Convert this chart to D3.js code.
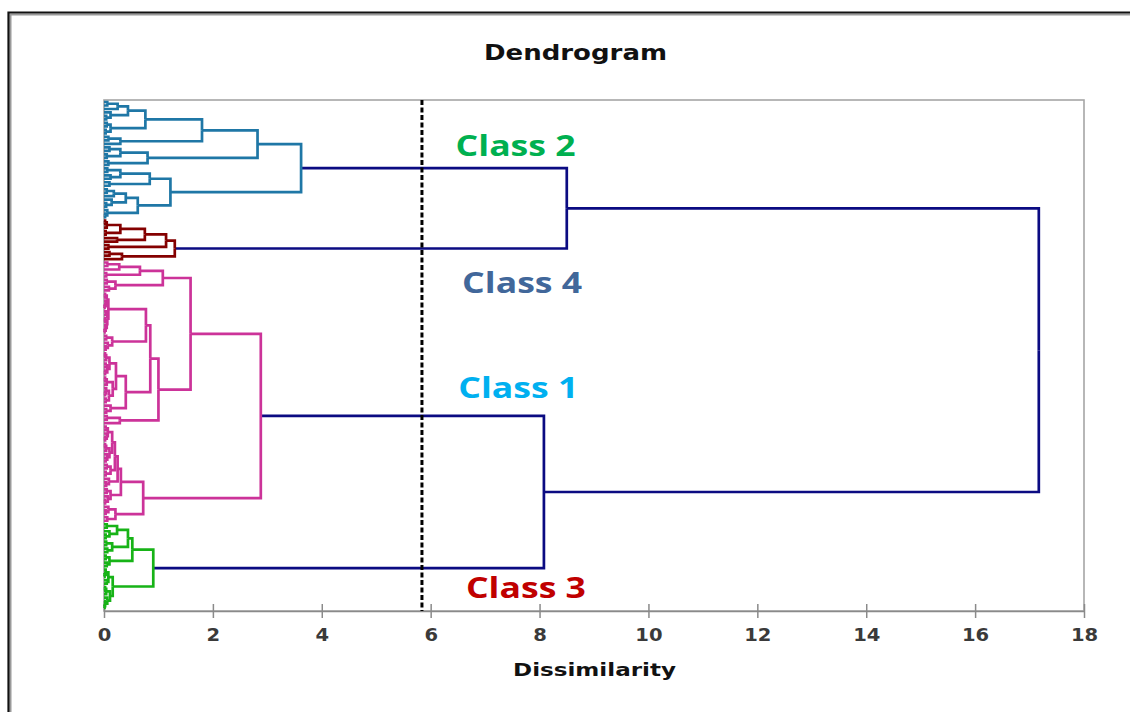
<!DOCTYPE html>
<html>
<head>
<meta charset="utf-8">
<title>Dendrogram</title>
<script src="https://cdn.jsdelivr.net/npm/d3@7"></script>
<style>
  html, body { margin: 0; padding: 0; background: #fff; }
  svg { display: block; }
</style>
</head>
<body>
<svg id="chart" width="1130" height="712"></svg>
<script>
// ---- data -------------------------------------------------------------
// A node is [merge height, upper branch, lower branch]; `o` marks a single observation.
const o = null;

const class2Tree = [3.62,
  [2.82,
    [1.80,
      [0.76,
        [0.44, [0.25, [0.06, o, o], o], [0.12, o, [0.04, o, o]]],
        [0.12, [0.05, o, o], [0.03, o, o]]],
      [0.30, [0.08, o, o], o]],
    [0.80, [0.30, [0.10, o, o], [0.05, o, o]], [0.08, o, o]]],
  [1.22,
    [0.84, [0.30, [0.06, o, o], [0.12, o, o]], [0.10, o, o]],
    [0.62,
      [0.40, [0.18, [0.05, o, o], o], [0.14, o, [0.04, o, o]]],
      [0.06, o, [0.02, o, o]]]]];

const class4Tree = [1.30,
  [1.14,
    [0.75,
      [0.30, [0.05, [0.02, o, o], o], [0.03, o, o]],
      [0.24, o, o]],
    [0.08, o, o]],
  [0.33, [0.10, o, o], o]];

const class1Tree = [2.88,
  [1.59,
    [1.08,
      [0.66, [0.28, [0.06, o, o], o], [0.04, o, o]],
      [0.21, [0.05, o, o], [0.09, o, o]]],
    [1.00,
      [0.85,
        [0.77,
          [0.08,
            [0.05, [0.02, o, o], [0.03, o, [0.01, o, o]]],
            [0.06, [0.04, o, o], [0.05, [0.02, o, o], [0.03, o, [0.01, o, o]]]]],
          [0.15, [0.04, o, o], [0.07, o, [0.03, o, o]]]],
        [0.40,
          [0.22,
            [0.10, [0.04, [0.02, o, o], o], [0.06, [0.03, o, o], [0.02, o, o]]],
            [0.16, [0.05, [0.02, o, o], o], [0.09, [0.04, o, [0.02, o, o]], [0.03, o, o]]]],
          [0.12, o, [0.04, o, o]]]],
      [0.29, [0.05, o, o], o]]],
  [0.72,
    [0.31,
      [0.25,
        [0.20,
          [0.15,
            [0.07, [0.03, o, o], [0.05, o, [0.02, o, o]]],
            [0.10, [0.04, [0.02, o, o], o], [0.06, o, [0.03, o, o]]]],
          [0.12, [0.05, o, o], [0.03, o, o]]],
        [0.09, o, [0.04, o, o]]],
      [0.12, [0.05, o, o], [0.07, o, [0.02, o, o]]]],
    [0.21, [0.08, o, [0.03, o, o]], [0.06, o, o]]]];

const class3Tree = [0.905,
  [0.52,
    [0.44,
      [0.24, [0.05, o, o], [0.10, o, [0.03, o, o]]],
      [0.15, [0.04, o, o], [0.06, o, o]]],
    [0.10, [0.03, o, o], [0.05, o, o]]],
  [0.16,
    [0.08, [0.03, o, [0.01, o, o]], [0.05, o, o]],
    [0.11, [0.04, [0.02, o, o], o], [0.06, o, [0.02, o, [0.01, o, o]]]]]];

// merges between the four classes
const upperMerge = 8.50;   // Class 2 + Class 4
const lowerMerge = 8.08;   // Class 1 + Class 3
const rootMerge = 17.17;   // all observations
const cutLevel = 5.84;     // truncation line

const xTicks = [0, 2, 4, 6, 8, 10, 12, 14, 16, 18];
const classNames = ["Class 2", "Class 4", "Class 1", "Class 3"];
const classLabelColors = ["#00b050", "#41679a", "#00b0f0", "#c00000"];
const branchColors = ["#1f77a6", "#840000", "#cc3399", "#17b317"];
const mergeColor = "#0b0b82";

// ---- layout -----------------------------------------------------------
const svg = d3.select("#chart");
const W = 1130, H = 712;
const plot = { left: 104, right: 1084, top: 100, bottom: 611 };
const leafTop = 102, leafBottom = 608;

svg.append("rect").attr("width", W).attr("height", H).attr("fill", "#fff");

// outer frame (black edge with grey shadow line)
svg.append("path").attr("d", `M10.5,${H}V14.5H${W}`)
  .attr("fill", "none").attr("stroke", "#9a9a9a").attr("stroke-width", 2);
svg.append("path").attr("d", `M8.5,${H}V12.5H${W}`)
  .attr("fill", "none").attr("stroke", "#111").attr("stroke-width", 2.2);

const x = d3.scaleLinear().domain([0, 18]).range([plot.left, plot.right]);

// build the hierarchy
function toNode(a, cls) {
  if (a === null) return { h: 0, cls };
  return { h: a[0], cls, children: [toNode(a[1], cls), toNode(a[2], cls)] };
}
const treeData = {
  h: rootMerge, cls: null,
  children: [
    { h: upperMerge, cls: null, children: [toNode(class2Tree, 0), toNode(class4Tree, 1)] },
    { h: lowerMerge, cls: null, children: [toNode(class1Tree, 2), toNode(class3Tree, 3)] }
  ]
};
const root = d3.hierarchy(treeData);
const leaves = root.leaves();
const y = d3.scaleLinear().domain([0, leaves.length - 1]).range([leafTop, leafBottom]);
leaves.forEach((d, i) => { d.y = y(i); });
root.eachAfter(d => {
  if (d.children) d.y = d3.mean(d.children, c => c.y);
});

// plot area frame
svg.append("rect")
  .attr("x", plot.left).attr("y", plot.top)
  .attr("width", plot.right - plot.left).attr("height", plot.bottom - plot.top)
  .attr("fill", "none").attr("stroke", "#a6a6a6").attr("stroke-width", 1.6);

// x axis
const axis = svg.append("g")
  .attr("transform", `translate(0,${plot.bottom})`)
  .call(d3.axisBottom(x).tickValues(xTicks).tickSizeInner(7).tickSizeOuter(0).tickPadding(11));
axis.select(".domain").attr("stroke", "#8a8a8a").attr("stroke-width", 1.5);
axis.selectAll(".tick line").attr("y1", -7).attr("stroke", "#8a8a8a").attr("stroke-width", 1.5);
axis.selectAll(".tick text")
  .attr("fill", "#3a3a3a")
  .style("font-family", "'DejaVu Sans', Verdana, sans-serif")
  .style("font-size", "17px")
  .style("font-weight", "bold")
  .attr("transform", "scale(1.15,1)");

// branches
const links = root.descendants().filter(d => d.parent);
const linkPath = d => `M${x(d.data.h)},${d.y}H${x(d.parent.data.h)}V${d.parent.y}`;
const linkG = svg.append("g").attr("fill", "none").attr("stroke-linejoin", "miter");
linkG.selectAll("path.merge")
  .data(links.filter(d => d.parent.data.cls === null))
  .join("path").attr("class", "merge")
  .attr("d", linkPath)
  .attr("stroke", mergeColor).attr("stroke-width", 2.7);
linkG.selectAll("path.branch")
  .data(links.filter(d => d.parent.data.cls !== null))
  .join("path").attr("class", "branch")
  .attr("d", linkPath)
  .attr("stroke", d => branchColors[d.parent.data.cls]).attr("stroke-width", 2.7);

// truncation line
svg.append("line")
  .attr("x1", x(cutLevel)).attr("x2", x(cutLevel))
  .attr("y1", plot.top).attr("y2", plot.bottom)
  .attr("stroke", "#000").attr("stroke-width", 3).attr("stroke-dasharray", "5,2.5");

// class labels
const labelPos = [
  { cx: 7.56, by: 156 },
  { cx: 7.68, by: 293 },
  { cx: 7.61, by: 398 },
  { cx: 7.75, by: 598 }
];
svg.append("g").selectAll("text")
  .data(classNames)
  .join("text")
  .attr("x", (d, i) => x(labelPos[i].cx))
  .attr("y", (d, i) => labelPos[i].by)
  .attr("text-anchor", "middle")
  .attr("textLength", 120).attr("lengthAdjust", "spacingAndGlyphs")
  .attr("fill", (d, i) => classLabelColors[i])
  .style("font-family", "'Open Sans', Lato, sans-serif")
  .style("font-weight", "bold")
  .style("font-size", "28px")
  .text(d => d);

// titles
svg.append("text")
  .attr("x", 575.5).attr("y", 60)
  .attr("text-anchor", "middle")
  .attr("textLength", 183).attr("lengthAdjust", "spacingAndGlyphs")
  .style("font-family", "'DejaVu Sans', Verdana, sans-serif")
  .style("font-weight", "bold").style("font-size", "21px")
  .attr("fill", "#111")
  .text("Dendrogram");

svg.append("text")
  .attr("x", 594.5).attr("y", 676)
  .attr("text-anchor", "middle")
  .attr("textLength", 163).attr("lengthAdjust", "spacingAndGlyphs")
  .style("font-family", "'DejaVu Sans', Verdana, sans-serif")
  .style("font-weight", "bold").style("font-size", "18px")
  .attr("fill", "#111")
  .text("Dissimilarity");
</script>
</body>
</html>
